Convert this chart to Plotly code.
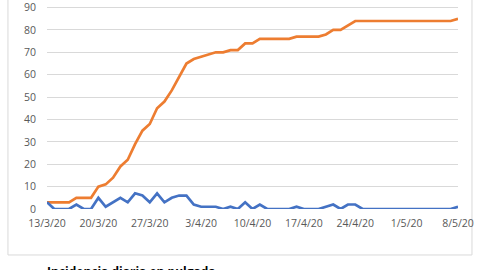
import plotly.graph_objects as go
import pandas as pd

dates = pd.date_range("2020-03-13", "2020-05-08", freq="D")

daily = [3, 0, 0, 0, 2, 0, 0, 5, 1, 3, 5, 3, 7, 6, 3, 7, 3, 5, 6, 6,
         2, 1, 1, 1, 0, 1, 0, 3, 0, 2, 0, 0, 0, 0, 1, 0, 0, 0, 1, 2,
         0, 2, 2, 0, 0, 0, 0, 0, 0, 0, 0, 0, 0, 0, 0, 0, 1]

cumulative = [3, 3, 3, 3, 5, 5, 5, 10, 11, 14, 19, 22, 29, 35, 38, 45, 48, 53, 59, 65,
              67, 68, 69, 70, 70, 71, 71, 74, 74, 76, 76, 76, 76, 76, 77, 77, 77, 77, 78, 80,
              80, 82, 84, 84, 84, 84, 84, 84, 84, 84, 84, 84, 84, 84, 84, 84, 85]

tick_dates = ["2020-03-13", "2020-03-20", "2020-03-27", "2020-04-03", "2020-04-10",
              "2020-04-17", "2020-04-24", "2020-05-01", "2020-05-08"]
tick_labels = ["13/3/20", "20/3/20", "27/3/20", "3/4/20", "10/4/20",
               "17/4/20", "24/4/20", "1/5/20", "8/5/20"]
y_ticks = [0, 10, 20, 30, 40, 50, 60, 70, 80, 90]

fig = go.Figure()
fig.add_trace(go.Scatter(x=dates, y=cumulative, mode="lines",
                         line=dict(color="#ED7D31", width=2.7), showlegend=False))
fig.add_trace(go.Scatter(x=dates, y=daily, mode="lines",
                         line=dict(color="#4472C4", width=2.7), showlegend=False))

fig.update_layout(
    width=480, height=270,
    margin=dict(l=47, r=22, t=0, b=61),
    paper_bgcolor="white", plot_bgcolor="white",
    font=dict(family="Open Sans", size=10.5, color="#595959"),
    xaxis=dict(range=[dates[0], dates[-1]], tickvals=tick_dates, ticktext=tick_labels,
               showgrid=False, zeroline=False, showline=False, ticks="",
               ticklabelstandoff=6, ticklabeloverflow="allow"),
    yaxis=dict(range=[0, 90.7], tickvals=y_ticks, showgrid=True, gridcolor="#d9d9d9",
               gridwidth=1, zeroline=False, showline=False, ticks="",
               ticklabelstandoff=10, ticklabeloverflow="allow"),
    shapes=[dict(type="rect", xref="paper", yref="paper", x0=-0.095, x1=1.034,
                 y0=-0.2265, y1=1.2, line=dict(color="#d9d9d9", width=1),
                 fillcolor="rgba(0,0,0,0)", layer="below")],
    annotations=[dict(text="<b>Incidencia diaria en pulgada</b>", xref="paper", yref="paper",
                      x=-0.005, y=-0.258, xanchor="left", yanchor="top", showarrow=False,
                      font=dict(family="Open Sans", size=12, color="#000000"))],
)

fig.write_html("out.html")
